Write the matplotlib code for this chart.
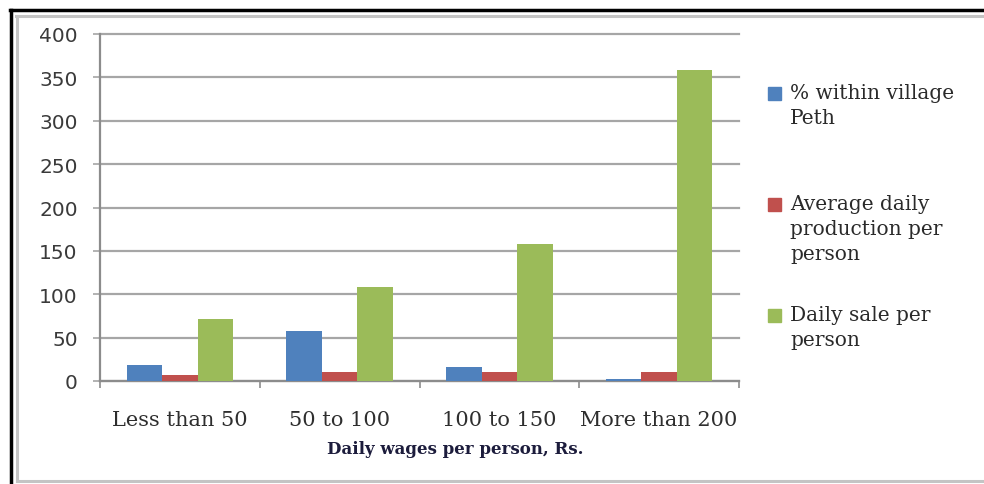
import numpy as np
import matplotlib
matplotlib.use("Agg")
import matplotlib.pyplot as plt
from matplotlib.lines import Line2D
from matplotlib.patches import Rectangle

# wage classes and the three measured series
categories = ["Less than 50", "50 to 100", "100 to 150", "More than 200"]
pct_within_village = [19, 58, 16, 2]
avg_daily_production = [7, 10, 10, 10]
daily_sale = [72, 108, 158, 358]

series_names = ["% within village\nPeth",
                "Average daily\nproduction per\nperson",
                "Daily sale per\nperson"]
series_colors = ["#4F81BD", "#C0504D", "#9BBB59"]
yticks = [0, 50, 100, 150, 200, 250, 300, 350, 400]

W, H = 984, 485
fig = plt.figure(figsize=(W / 100, H / 100), dpi=100)
fig.patch.set_facecolor("white")

ax = fig.add_axes([100 / W, 1 - 382 / H, (739 - 100) / W, (382 - 35) / H])

x = np.arange(len(categories))
w = 1 / 4.5
for i, (vals, col) in enumerate(zip([pct_within_village, avg_daily_production, daily_sale],
                                   series_colors)):
    ax.bar(x + (i - 1) * w, vals, width=w, color=col, zorder=3)

ax.set_xlim(-0.5, len(categories) - 0.5)
ax.set_ylim(0, 400)
ax.set_yticks(yticks)
ax.yaxis.grid(True, color="#A6A6A6", lw=1.6, zorder=0)
ax.set_axisbelow(True)
for gl in ax.get_ygridlines():
    gl.set_clip_on(False)

for s in ["top", "right"]:
    ax.spines[s].set_visible(False)
for s in ["left", "bottom"]:
    ax.spines[s].set_color("#8C8C8C")
    ax.spines[s].set_linewidth(1.6)

ax.tick_params(axis="y", length=5, width=1.2, color="#A6A6A6", pad=11,
               labelsize=14.5, labelcolor="#3A3A3A")
ax.set_xticks(x)
ax.set_xticklabels(categories, family="DejaVu Serif", fontsize=15, color="#2E2E2E")
ax.set_xticks(np.arange(len(categories) + 1) - 0.5, minor=True)
ax.tick_params(axis="x", which="major", length=0, pad=21)
ax.tick_params(axis="x", which="minor", length=5, width=1.2, color="#8C8C8C")

fig.text(455 / W, 1 - 450 / H, "Daily wages per person, Rs.", family="DejaVu Serif",
         fontweight="bold", fontsize=12, color="#1C1C3C", ha="center", va="center")

# legend drawn by hand, entries spaced unevenly
legend_tops = [88, 199, 310]
for name, col, top in zip(series_names, series_colors, legend_tops):
    fig.add_artist(Rectangle((768 / W, 1 - (top + 13) / H), 13 / W, 13 / H,
                             transform=fig.transFigure, color=col))
    fig.text(790 / W, 1 - (top - 4) / H, name, family="DejaVu Serif", fontsize=14.5,
             color="#2A2A2A", ha="left", va="top", linespacing=1.4)

# chart frame: black outer rule and grey chart-area border
fig.add_artist(Line2D([10 / W, 1], [1 - 10.5 / H] * 2, color="black", lw=2.5,
                      transform=fig.transFigure))
fig.add_artist(Line2D([11 / W] * 2, [0, 1 - 10.5 / H], color="black", lw=2.5,
                      transform=fig.transFigure))
fig.add_artist(Line2D([16 / W, 1], [1 - 16.5 / H] * 2, color="#C4C4C4", lw=2.2,
                      transform=fig.transFigure))
fig.add_artist(Line2D([16.5 / W] * 2, [1 - 482 / H, 1 - 16.5 / H], color="#C4C4C4", lw=2.2,
                      transform=fig.transFigure))
fig.add_artist(Line2D([16.5 / W, 1], [1 - 482 / H] * 2, color="#C4C4C4", lw=2.2,
                      transform=fig.transFigure))

fig.savefig("out.png", dpi=100)
